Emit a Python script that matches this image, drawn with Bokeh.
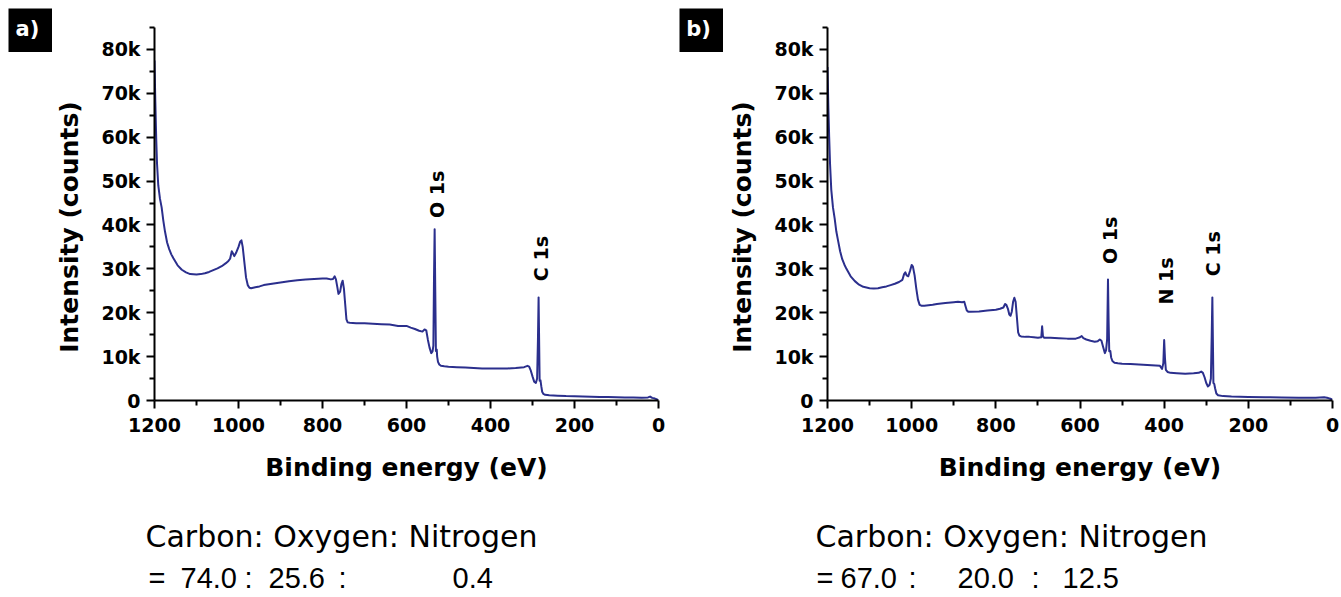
import math
from bokeh.plotting import figure
from bokeh.models import Range1d, FixedTicker, Label
from bokeh.layouts import row, column
from bokeh.embed import file_html
from bokeh.resources import INLINE
from bokeh.core.properties import value

# ---------------- data ----------------
energy_a = [1200, 1198, 1196, 1194, 1191, 1187, 1183, 1179, 1175, 1170,
            1165, 1160, 1155, 1145, 1135, 1125, 1115, 1100, 1090, 1080,
            1070, 1060, 1050, 1040, 1030, 1024, 1020, 1016, 1013, 1010,
            1006, 1000, 996, 993, 990, 986, 982, 978, 974, 970,
            960, 950, 940, 920, 900, 880, 860, 840, 820, 800,
            790, 780, 775, 771, 768, 765, 762, 758, 755, 752,
            749, 746, 743, 740, 735, 720, 700, 680, 660, 640,
            620, 600, 590, 580, 570, 562, 557, 553, 549, 545,
            541, 538, 536, 534.5, 533, 531.5, 530, 528, 527, 525,
            522, 518, 510, 500, 480, 460, 440, 420, 400, 380,
            360, 340, 320, 312, 308, 304, 300, 296, 292, 289,
            287, 285.5, 284, 283, 281, 279, 277, 274, 270, 260,
            240, 220, 200, 180, 160, 140, 120, 100, 80, 60,
            40, 25, 20, 15, 10, 5, 0]
counts_a = [77.5, 68, 60, 54, 49, 46, 44, 41, 38.5, 36,
            34.5, 33.3, 32.4, 30.8, 29.8, 29.2, 28.8, 28.7, 28.8, 29.0,
            29.3, 29.7, 30.1, 30.6, 31.3, 31.8, 32.3, 34.0, 33.5, 32.9,
            33.6, 35.0, 36.2, 36.5, 35.0, 31.5, 28.0, 26.3, 25.7, 25.6,
            25.8, 26.0, 26.3, 26.6, 26.9, 27.2, 27.4, 27.6, 27.7, 27.8,
            27.8, 27.6, 27.7, 28.3, 27.6, 26.0, 24.3, 24.8, 26.5, 27.3,
            25.5, 22.0, 18.5, 17.8, 17.7, 17.6, 17.6, 17.5, 17.4, 17.3,
            17.0, 17.0, 16.6, 16.3, 15.9, 15.7, 16.2, 16.0, 13.8, 12.0,
            10.8, 11.2, 12.5, 28, 39.0, 25, 11.3, 11.6, 10.0, 8.8,
            8.2, 7.9, 7.8, 7.7, 7.6, 7.5, 7.4, 7.3, 7.3, 7.3,
            7.3, 7.4, 7.6, 7.9, 7.7, 6.8, 5.5, 4.3, 4.0, 5.0,
            14, 23.5, 12, 4.5, 4.6, 3.2, 2.0, 1.5, 1.3, 1.2,
            1.1, 1.0, 0.95, 0.9, 0.85, 0.8, 0.8, 0.75, 0.7, 0.7,
            0.65, 0.7, 0.9, 0.6, 0.5, 0.3, 0.1]

energy_b = [1200, 1198, 1196, 1194, 1191, 1187, 1183, 1179, 1175, 1170,
            1165, 1160, 1155, 1145, 1135, 1125, 1115, 1100, 1090, 1080,
            1070, 1060, 1050, 1040, 1030, 1022, 1018, 1015, 1012, 1008,
            1004, 1000, 997, 993, 989, 985, 981, 977, 970, 960,
            950, 940, 920, 900, 890, 880, 875, 872, 869, 865,
            860, 840, 820, 800, 790, 782, 778, 775, 771, 768,
            765, 762, 759, 756, 753, 750, 747, 744, 740, 730,
            720, 710, 700, 692, 690, 688, 685, 670, 650, 630,
            610, 600, 596, 592, 585, 575, 565, 558, 553, 549,
            545, 541, 538, 535.5, 533.5, 532, 530.5, 528, 526, 523,
            518, 510, 500, 480, 460, 440, 420, 410, 405, 402,
            400, 398, 396, 392, 385, 370, 350, 330, 318, 312,
            308, 304, 300, 296, 292, 289, 287, 285.5, 284, 283,
            281, 279, 276, 272, 260, 240, 200, 160, 120, 80,
            40, 20, 10, 5, 0]
counts_b = [76, 67, 60, 54, 48, 44, 41.5, 38.5, 36.5, 34,
            32.2, 31, 30, 28.3, 27.2, 26.4, 25.9, 25.6, 25.5, 25.6,
            25.8, 26.0, 26.3, 26.6, 27.0, 27.5, 28.8, 29.2, 28.5, 28.3,
            29.5, 30.9, 30.5, 28.5, 25.5, 23.0, 21.8, 21.6, 21.6, 21.7,
            21.8, 22.0, 22.2, 22.4, 22.5, 22.4, 22.5, 21.5, 20.5, 20.2,
            20.2, 20.3, 20.5, 20.7, 20.9, 21.2, 22.0, 21.8, 20.8, 19.6,
            19.3, 20.3, 22.5, 23.4, 22.5, 19.0, 15.5, 14.8, 14.6, 14.5,
            14.5, 14.4, 14.3, 14.4, 16.9, 14.6, 14.3, 14.3, 14.2, 14.1,
            14.1, 14.4, 14.7, 14.2, 13.9, 13.6, 13.4, 13.5, 13.9, 13.6,
            12.2, 10.8, 11.5, 14, 27.6, 18, 11.2, 11.3, 9.8, 9.0,
            8.6, 8.5, 8.4, 8.3, 8.2, 8.1, 8.0, 7.9, 7.2, 8.5,
            13.8, 9.5, 7.0, 6.5, 6.3, 6.2, 6.1, 6.2, 6.3, 6.6,
            6.3, 5.3, 4.0, 3.2, 3.6, 5.0, 15, 23.5, 12, 4.0,
            3.8, 2.8, 1.6, 1.2, 1.0, 0.9, 0.8, 0.75, 0.7, 0.65,
            0.65, 0.75, 0.55, 0.4, 0.2]

assert len(energy_a) == len(counts_a)
assert len(energy_b) == len(counts_b)

x_ticks = [0, 200, 400, 600, 800, 1000, 1200]
x_minor = [100, 300, 500, 700, 900, 1100]
y_ticks = [0, 10, 20, 30, 40, 50, 60, 70, 80]
y_minor = [5, 15, 25, 35, 45, 55, 65, 75, 85]
y_tick_labels = ["0", "10k", "20k", "30k", "40k", "50k", "60k", "70k", "80k"]

peak_names_a = ["O 1s", "C 1s"]
peak_names_b = ["O 1s", "N 1s", "C 1s"]

panel_names = ["a)", "b)"]
ratio_header = "Carbon: Oxygen: Nitrogen"
ratio_a = ["=", "74.0", ":", "25.6", ":", "0.4"]
ratio_b = ["=", "67.0", ":", "20.0", ":", "12.5"]

# ---------------- styling ----------------
LINE = "#2b2f8d"
FONT = "DejaVu Sans"
MAIN_H = 492
TOTAL_H = 597


def bare(width, height, xr, yr, **kw):
    p = figure(width=width, height=height, output_backend="svg", toolbar_location=None,
               x_range=xr, y_range=yr, x_axis_location=None, y_axis_location=None,
               frame_align=False, title=None, **kw)
    p.grid.visible = False
    p.outline_line_color = None
    return p


def make_main(energy, counts, width, border_left, border_right, peaks, peak_pos):
    p = figure(width=width, height=MAIN_H, output_backend="svg", toolbar_location=None,
               x_range=Range1d(1200, 0), y_range=Range1d(0, 85), frame_align=False,
               title=None,
               min_border_left=border_left, min_border_right=border_right,
               min_border_top=27, min_border_bottom=MAIN_H - 27 - 373)
    p.outline_line_color = None
    p.xgrid.grid_line_color = None
    p.ygrid.grid_line_color = None

    p.line(energy, counts, line_color=LINE, line_width=2, line_join="round")

    for ax in (p.xaxis[0], p.yaxis[0]):
        ax.axis_line_width = 2
        ax.axis_line_color = "black"
        ax.major_tick_line_width = 2
        ax.minor_tick_line_width = 2
        ax.major_tick_in = 0
        ax.major_tick_out = 8
        ax.minor_tick_in = 0
        ax.minor_tick_out = 5
        ax.major_label_text_font = FONT
        ax.major_label_text_font_style = "bold"
        ax.major_label_text_font_size = "19px"
        ax.major_label_text_color = "black"
        ax.axis_label_text_font = FONT
        ax.axis_label_text_font_style = "bold"
        ax.axis_label_text_font_size = "25px"
        ax.axis_label_text_color = "black"

    p.xaxis.ticker = FixedTicker(ticks=x_ticks, minor_ticks=x_minor)
    p.yaxis.ticker = FixedTicker(ticks=y_ticks, minor_ticks=y_minor)
    p.yaxis.major_label_overrides = {t: s for t, s in zip(y_ticks, y_tick_labels)}
    p.xaxis.axis_label = "Binding energy (eV)"
    p.yaxis.axis_label = "Intensity (counts)\u00a0\u00a0\u00a0"
    p.xaxis.major_label_standoff = 9
    p.yaxis.major_label_standoff = 6
    p.xaxis.axis_label_standoff = 18
    p.yaxis.axis_label_standoff = 14

    for name, (px, py) in zip(peaks, peak_pos):
        p.add_layout(Label(x=px, y=py, text=name, angle=math.pi / 2,
                           text_align="left", text_baseline="middle",
                           text_font=FONT, text_font_style="bold",
                           text_font_size="19px", text_color="black"))
    return p


def make_tag(name, left_pad):
    # small black square carrying the panel letter
    p = bare(left_pad + 44, 52, Range1d(0, 44), Range1d(0, 44),
             min_border_left=left_pad, min_border_top=8,
             min_border_right=0, min_border_bottom=0)
    p.background_fill_color = "black"
    p.text(x=[19], y=[24], text=[name], text_color="white", text_align="center",
           text_baseline="middle", text_font=value(FONT), text_font_style="bold",
           text_font_size=value("21px"))
    return p


def make_caption(x0, x1, header_x, vals, val_x):
    # data units = page pixels (measured offset corrected)
    p = bare(x1 - x0, TOTAL_H - MAIN_H, Range1d(x0, x1), Range1d(TOTAL_H, MAIN_H),
             min_border_left=0, min_border_top=0, min_border_right=0, min_border_bottom=0)
    p.text(x=[header_x], y=[536], text=[ratio_header], text_color="black",
           text_align="left", text_baseline="alphabetic",
           text_font=value(FONT), text_font_size=value("30px"))
    p.text(x=val_x, y=[577] * len(vals), text=vals, text_color="black",
           text_align="left", text_baseline="alphabetic",
           text_font=value("Liberation Sans"), text_font_size=value("29px"))
    return p


# panel a: tag at x 8..52, main figure from x=52 (frame 153..658)
main_a = make_main(energy_a, counts_a, 618, 101, 12, peak_names_a,
                   [(527, 41.6), (280, 27.2)])
tag_a = make_tag(panel_names[0], 8)
cap_a = make_caption(52, 670, 145, ratio_a, [148, 180, 244, 268, 338, 452])

# panel b: tag at x 679..723, main figure from x=723 (frame 827..1332)
main_b = make_main(energy_b, counts_b, 618, 104, 9, peak_names_b,
                   [(528, 31.1), (396, 21.9), (285, 28.3)])
tag_b = make_tag(panel_names[1], 9)
cap_b = make_caption(723, 1341, 815, ratio_b, [816, 840, 908, 957, 1031, 1062])

layout = row(row(tag_a, column(main_a, cap_a)), row(tag_b, column(main_b, cap_b)))
open("out.html", "w").write(file_html(layout, INLINE))
